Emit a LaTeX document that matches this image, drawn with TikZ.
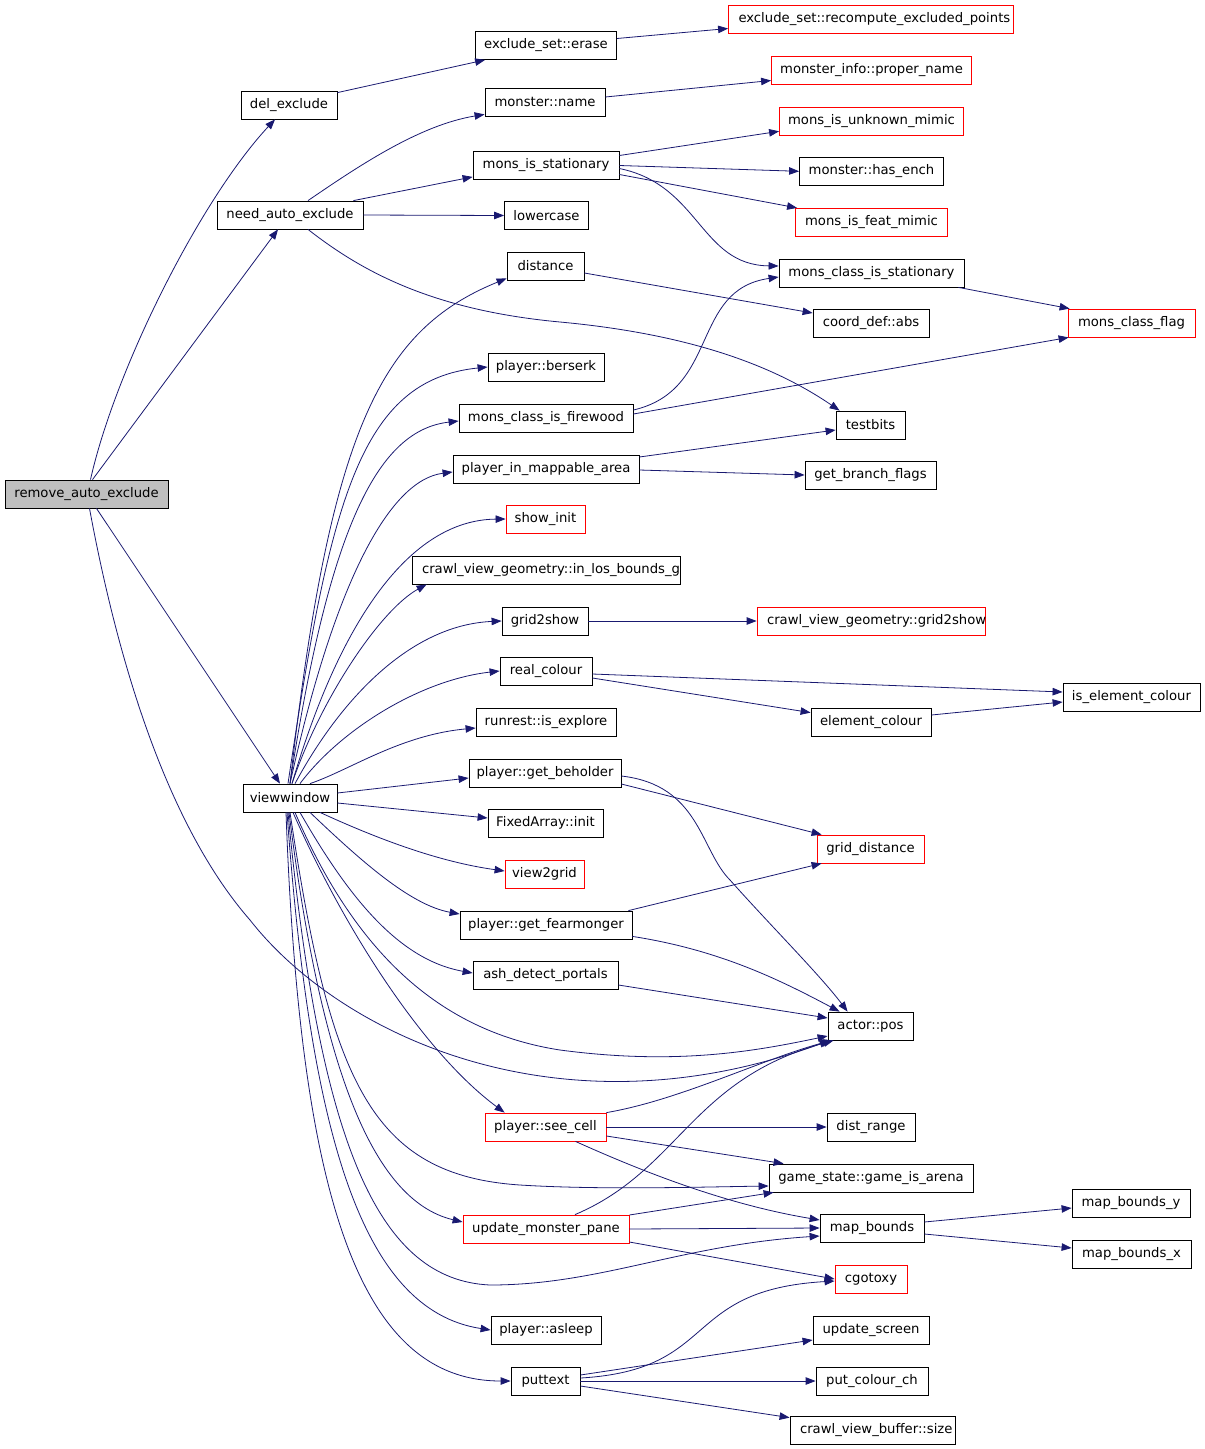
\documentclass[tikz,border=0pt]{standalone}
\usepackage{fontspec}
\setmainfont{DejaVu Sans}
\usepackage{xcolor}
\usepackage{tikz}
\usetikzlibrary{arrows.meta}
\definecolor{edgeblue}{HTML}{191970}
\definecolor{boxred}{HTML}{FF0000}
\definecolor{rootgray}{HTML}{BFBFBF}

\begin{document}
\begin{tikzpicture}[x=1pt, y=-1pt,
    fn/.style={draw=black, line width=0.8pt, minimum width=#1, minimum height=28pt, inner sep=0pt, font=\fontsize{13.2}{15}\selectfont},
    fnred/.style={fn=#1, draw=boxred},
    call/.style={draw=edgeblue, line width=0.8pt, -{Triangle[length=10pt,width=7.5pt]}}]
            \useasboundingbox (0,0) rectangle (1205,1449);

            % Root
            \node[fn=163, fill=rootgray] (rae) at (86.5,494) {remove\_auto\_exclude};

            % Called by the root
            \node[fn=96] (delex) at (289,105) {del\_exclude};
            \node[fn=146] (needae) at (290,215) {need\_auto\_exclude};
            \node[fn=94] (vw) at (290,798) {viewwindow};

            % Middle column
            \node[fn=141] (erase) at (546,45.5) {exclude\_set::erase};
            \node[fn=120] (mname) at (545,102) {monster::name};
            \node[fn=146] (mis) at (546,165.5) {mons\_is\_stationary};
            \node[fn=84] (lowercase) at (546.5,215.5) {lowercase};
            \node[fn=77] (distance) at (545.5,266) {distance};
            \node[fn=116] (berserk) at (546,367) {player::berserk};
            \node[fn=174] (mcif) at (546,418) {mons\_class\_is\_firewood};
            \node[fn=186] (pima) at (546,469) {player\_in\_mappable\_area};
            \node[fnred=79] (showinit) at (545.5,519) {show\_init};
            \node[fn=268, text width=248, align=left] (inlos) at (546,570) {crawl\_view\_geometry::in\_los\_bounds\_g};
            \node[fn=86] (g2s) at (545,621) {grid2show};
            \node[fn=92] (rc) at (546,671) {real\_colour};
            \node[fn=140] (explore) at (546,722) {runrest::is\_explore};
            \node[fn=152] (pgb) at (545,773) {player::get\_beholder};
            \node[fn=115] (fainit) at (545.5,823) {FixedArray::init};
            \node[fnred=79] (v2g) at (544.5,874) {view2grid};
            \node[fn=172] (pgf) at (546,925) {player::get\_fearmonger};
            \node[fn=145] (adp) at (545.5,975) {ash\_detect\_portals};
            \node[fnred=121] (psc) at (545.5,1127) {player::see\_cell};
            \node[fnred=166] (ump) at (546,1229) {update\_monster\_pane};
            \node[fn=110] (asleep) at (546,1330) {player::asleep};
            \node[fn=69] (puttext) at (545.5,1381) {puttext};

            % Right column
            \node[fnred=285, text width=265, align=left] (recompute) at (871,19.5) {exclude\_set::recompute\_excluded\_points};
            \node[fnred=200] (pname) at (871.5,70.5) {monster\_info::proper\_name};
            \node[fnred=184] (umimic) at (871.5,121.3) {mons\_is\_unknown\_mimic};
            \node[fn=144] (hasench) at (871.5,171.3) {monster::has\_ench};
            \node[fnred=152] (featmimic) at (871.5,222.3) {mons\_is\_feat\_mimic};
            \node[fn=185] (mcis) at (871.5,273) {mons\_class\_is\_stationary};
            \node[fn=116] (cabs) at (871,323) {coord\_def::abs};
            \node[fn=69] (testbits) at (870.5,425) {testbits};
            \node[fn=131] (gbf) at (870.5,475) {get\_branch\_flags};
            \node[fnred=228, text width=208, align=left] (cvgg2s) at (871,621) {crawl\_view\_geometry::grid2show};
            \node[fn=120] (ec) at (871,722) {element\_colour};
            \node[fnred=107] (gd) at (870.5,849) {grid\_distance};
            \node[fn=85] (apos) at (870.5,1026) {actor::pos};
            \node[fn=88] (dr) at (871,1127) {dist\_range};
            \node[fn=204] (gia) at (871,1178) {game\_state::game\_is\_arena};
            \node[fn=104] (mb) at (872,1228) {map\_bounds};
            \node[fnred=72] (cgo) at (871,1279) {cgotoxy};
            \node[fn=116] (us) at (871,1330) {update\_screen};
            \node[fn=112] (pcc) at (872,1381) {put\_colour\_ch};
            \node[fn=165, text width=145, align=left] (cvbsize) at (872.5,1430) {crawl\_view\_buffer::size};

            % Far right
            \node[fnred=127] (mcflag) at (1131.5,323) {mons\_class\_flag};
            \node[fn=137] (iec) at (1131.5,697) {is\_element\_colour};
            \node[fn=118] (mby) at (1131,1203) {map\_bounds\_y};
            \node[fn=119] (mbx) at (1131.5,1254) {map\_bounds\_x};

            % Calls from the root
            \draw[call] ([xshift=4]rae.north) .. controls (115,370) and (200,200) .. ([xshift=-14]delex.south);
            \draw[call] ([xshift=6]rae.north) -- ([xshift=-12]needae.south);
            \draw[call] ([xshift=10]rae.south) -- ([xshift=-10]vw.north);
            \draw[call] ([xshift=3]rae.south) .. controls (125,700) and (180,840) .. (250,920)
                .. controls (340,1035) and (560,1140) .. ([xshift=2]apos.south west);

            % Calls from del_exclude and need_auto_exclude
            \draw[call] ([yshift=-2]delex.north east) -- ([xshift=10]erase.south west);
            \draw[call] ([yshift=7]erase.east) -- ([yshift=-9]recompute.west);
            \draw[call] ([xshift=18]needae.north) .. controls (360,165) and (420,125) .. ([yshift=2]mname.south west);
            \draw[call] ([xshift=-10]needae.north east) -- ([yshift=3]mis.south west);
            \draw[call] (needae.east) -- (lowercase.west);
            \draw[call] ([xshift=18]needae.south) .. controls (360,270) and (430,310) .. (560,322)
                .. controls (700,335) and (780,370) .. ([xshift=4]testbits.north west);

            % Second level calls, top half
            \draw[call] ([yshift=5]mname.east) -- ([yshift=-10]pname.west);
            \draw[call] ([yshift=10]mis.east) -- ([yshift=-10]umimic.west);
            \draw[call] (mis.east) -- (hasench.west);
            \draw[call] ([yshift=-9]mis.east) -- ([xshift=2]featmimic.north west);
            \draw[call] ([yshift=-3]mis.east) .. controls (700,185) and (700,265) .. ([yshift=7]mcis.west);
            \draw[call] ([xshift=-6]mcis.south east) -- ([xshift=2]mcflag.north west);
            \draw[call] ([yshift=-7]distance.east) -- ([yshift=10]cabs.west);
            \draw[call] ([yshift=8]mcif.east) .. controls (720,390) and (690,290) .. ([yshift=-4]mcis.west);
            \draw[call] ([yshift=4]mcif.east) -- ([xshift=1]mcflag.south west);
            \draw[call] ([yshift=12]pima.east) -- ([yshift=-5]testbits.west);
            \draw[call] ([yshift=-1]pima.east) -- (gbf.west);
            \draw[call] (g2s.east) -- (cvgg2s.west);
            \draw[call] ([yshift=-3]rc.east) -- ([yshift=5]iec.west);
            \draw[call] ([yshift=-7]rc.east) -- ([yshift=-5]ec.north west);
            \draw[call] ([yshift=7]ec.east) -- ([yshift=-5]iec.west);

            % Second level calls, bottom half
            \draw[call] ([yshift=-11]pgb.east) -- ([xshift=5]gd.north west);
            \draw[call] ([yshift=-3]pgb.east) .. controls (700,785) and (700,850) .. (730,880)
                .. controls (770,925) and (820,975) .. ([xshift=20]apos.north west);
            \draw[call] ([xshift=-4]pgf.north east) -- ([xshift=5]gd.south west);
            \draw[call] ([yshift=3]pgf.south east) .. controls (720,950) and (780,980) .. ([xshift=12]apos.north west);
            \draw[call] ([yshift=-10]adp.east) -- ([yshift=8]apos.west);
            \draw[call] (psc.north east) .. controls (680,1100) and (760,1060) .. ([xshift=4]apos.south west);
            \draw[call] (psc.east) -- (dr.west);
            \draw[call] ([yshift=-9]psc.east) -- ([xshift=15]gia.north west);
            \draw[call] ([xshift=30]psc.south) .. controls (650,1175) and (730,1205) .. ([yshift=8]mb.west);
            \draw[call] ([xshift=29]ump.north) .. controls (680,1170) and (690,1080) .. ([xshift=6]apos.south west);
            \draw[call] ([yshift=14]ump.east) -- ([xshift=5]gia.south west);
            \draw[call] (ump.east) -- (mb.west);
            \draw[call] ([yshift=-13]ump.east) -- (cgo.west);
            \draw[call] ([yshift=6]mb.east) -- ([yshift=-5]mby.west);
            \draw[call] ([yshift=-6]mb.east) -- ([yshift=6]mbx.west);
            \draw[call] ([yshift=3]puttext.east) .. controls (720,1370) and (680,1290) .. ([yshift=-2]cgo.west);
            \draw[call] ([yshift=6]puttext.east) -- ([yshift=-10]us.west);
            \draw[call] (puttext.east) -- (pcc.west);
            \draw[call] ([yshift=-5]puttext.east) -- ([yshift=-2]cvbsize.north west);

            % Calls from viewwindow, upwards
            \draw[call] (vw.north) .. controls (330,430) and (380,330) .. ([yshift=2]distance.south west);
            \draw[call] ([xshift=-2]vw.north) .. controls (330,500) and (360,380) .. (berserk.west);
            \draw[call] (vw.north) .. controls (330,520) and (380,430) .. ([yshift=-3]mcif.west);
            \draw[call] (vw.north) .. controls (335,580) and (390,480) .. ([yshift=-3]pima.west);
            \draw[call] ([xshift=2]vw.north) .. controls (340,620) and (410,520) .. (showinit.west);
            \draw[call] ([xshift=2]vw.north) .. controls (320,700) and (380,610) .. ([xshift=15]inlos.south west);
            \draw[call] ([xshift=5]vw.north) .. controls (340,700) and (410,625) .. (g2s.west);
            \draw[call] ([xshift=10]vw.north) .. controls (340,730) and (420,680) .. (rc.west);
            \draw[call] ([xshift=20]vw.north) .. controls (350,770) and (400,735) .. ([yshift=-6]explore.west);

            % Calls from viewwindow, sideways and downwards
            \draw[call] ([yshift=5]vw.east) -- ([yshift=-5]pgb.west);
            \draw[call] ([yshift=-5]vw.east) -- ([yshift=5]fainit.west);
            \draw[call] ([xshift=30]vw.south) .. controls (380,840) and (440,862) .. ([yshift=3]v2g.west);
            \draw[call] ([xshift=20]vw.south) .. controls (360,860) and (410,905) .. ([yshift=11]pgf.west);
            \draw[call] ([xshift=10]vw.south) .. controls (350,900) and (400,960) .. ([yshift=2]adp.west);
            \draw[call] ([xshift=5]vw.south) .. controls (350,940) and (430,1030) .. (560,1050)
                .. controls (680,1066) and (760,1050) .. ([yshift=-10]apos.west);
            \draw[call] ([xshift=3]vw.south) .. controls (340,920) and (420,1050) .. ([xshift=20]psc.north west);
            \draw[call] (vw.south) .. controls (330,1080) and (370,1175) .. (520,1185)
                .. controls (600,1190) and (700,1187) .. ([yshift=-8]gia.west);
            \draw[call] ([xshift=-1]vw.south) .. controls (320,1060) and (370,1200) .. ([yshift=7]ump.west);
            \draw[call] ([xshift=-2]vw.south) .. controls (320,1150) and (380,1280) .. (490,1285)
                .. controls (600,1285) and (680,1245) .. ([yshift=-8]mb.west);
            \draw[call] ([xshift=-3]vw.south) .. controls (310,1130) and (360,1310) .. (asleep.west);
            \draw[call] ([xshift=-4]vw.south) .. controls (300,1200) and (360,1381) .. (puttext.west);

        \end{tikzpicture}
\end{document}
